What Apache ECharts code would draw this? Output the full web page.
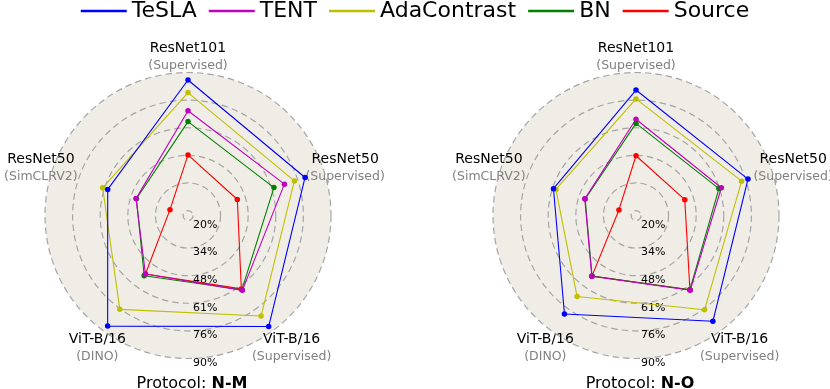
<!DOCTYPE html>
<html><head><meta charset="utf-8">
<script src="https://cdn.jsdelivr.net/npm/echarts@6/dist/echarts.min.js"></script>
<style>html,body{margin:0;padding:0;background:#fff}#c{width:830px;height:389px}</style>
</head><body><div id="c"></div>
<script>
// ---- data ----
const methods = ['TeSLA', 'TENT', 'AdaContrast', 'BN', 'Source'];
// indicator order (counter-clockwise from top)
const backbones = ['ResNet101', 'ResNet50', 'ViT-B/16', 'ViT-B/16', 'ResNet50'];
const pretraining = ['(Supervised)', '(SimCLRV2)', '(DINO)', '(Supervised)', '(Supervised)'];
const tickValues = [20, 34, 48, 62, 76, 90];
const tickLabels = ['20%', '34%', '48%', '61%', '76%', '90%'];
const protocols = ['N-M', 'N-O'];

// Protocol N-M
const nmTeSLA = [86.2, 60.3, 86.8, 87.1, 79.9];
const nmTENT = [70.6, 45.2, 54.2, 64.4, 68.9];
const nmAdaContrast = [79.8, 63.0, 76.3, 80.5, 74.2];
const nmBN = [65.1, 45.0, 55.3, 64.0, 63.3];
const nmSource = [48.2, 27.1, 54.2, 63.5, 43.8];
// Protocol N-O
const noTeSLA = [81.1, 61.5, 79.2, 83.8, 77.2];
const noTENT = [66.3, 44.8, 55.6, 64.3, 63.0];
const noAdaContrast = [76.6, 60.2, 68.3, 76.6, 73.8];
const noBN = [64.2, 44.6, 55.4, 64.0, 61.7];
const noSource = [47.8, 26.6, 55.5, 64.0, 43.5];

const rMin = 17.5, rMax = 90;
// ---- style ----
const colors = {TeSLA: '#0000ff', TENT: '#bf00bf', AdaContrast: '#bfbf00', BN: '#008000', Source: '#ff0000'};
const FONT = 'DejaVu Sans';
const centers = [[188, 215.5], [636, 215.5]];
const R = 143;
// horizontal nudges of the axis-name blocks (px), per indicator
const nameShift = [0, 6, 4, 9, 4];
const dataSets = [
  {TeSLA: nmTeSLA, TENT: nmTENT, AdaContrast: nmAdaContrast, BN: nmBN, Source: nmSource},
  {TeSLA: noTeSLA, TENT: noTENT, AdaContrast: noAdaContrast, BN: noBN, Source: noSource}
];
const drawOrder = ['Source', 'BN', 'AdaContrast', 'TENT', 'TeSLA'];

const chart = echarts.init(document.getElementById('c'), null, {renderer: 'canvas'});

const rich = {};
nameShift.forEach((s, i) => {
  const pad = s >= 0 ? [0, 0, 0, 2 * s] : [0, -2 * s, 0, 0];
  rich['a' + i] = {fontSize: 14, color: '#000', fontFamily: FONT, lineHeight: 17, align: 'center', padding: pad};
  rich['b' + i] = {fontSize: 12.5, color: '#808080', fontFamily: FONT, lineHeight: 17, align: 'center', padding: pad};
});

const radar = centers.map(c => ({
  center: c, radius: R, startAngle: 90, shape: 'circle', splitNumber: 1,
  indicator: backbones.map((b, i) => ({name: '{a' + i + '|' + b + '}\n{b' + i + '|' + pretraining[i] + '}', min: rMin, max: rMax})),
  axisLine: {show: false}, splitLine: {show: false},
  splitArea: {show: true, areaStyle: {color: ['#f0ede7']}},
  nameGap: 18,
  axisName: {
    align: 'center', verticalAlign: 'middle', padding: [5, 0, 0, 0],
    rich: rich
  },
  z: 0
}));

const polar = centers.map(c => ({center: c, radius: R}));
const angleAxis = centers.map((c, i) => ({polarIndex: i, type: 'value', min: 0, max: 360, startAngle: 270, show: false}));
const radiusAxis = centers.map((c, i) => ({
  polarIndex: i, type: 'value', min: rMin, max: rMax, z: 1,
  axisLine: {show: false},
  axisTick: {show: false, customValues: tickValues},
  axisLabel: {
    customValues: tickValues,
    formatter: v => '{t|' + tickLabels[tickValues.indexOf(v)] + '}',
    fontSize: 11, color: '#000', fontFamily: FONT, margin: 5,
    rich: {t: {fontSize: 11, color: '#000', fontFamily: FONT, padding: [9, 0, 0, 0]}}
  },
  splitLine: {show: true, lineStyle: {type: [6.5, 4], color: '#a5a5a5', width: 1.2}}
}));

const series = [];
dataSets.forEach((ds, ri) => {
  drawOrder.forEach(m => {
    series.push({
      type: 'radar', name: m, radarIndex: ri, z: 3,
      symbol: 'circle', symbolSize: 5.5,
      lineStyle: {color: colors[m], width: 1.1},
      itemStyle: {color: colors[m]},
      data: [{value: ds[m], name: m}]
    });
  });
});

const title = protocols.map((p, i) => ({
  text: 'Protocol: {b|' + p + '}', left: centers[i][0] + 4, top: 376, textAlign: 'center', padding: 0,
  textStyle: {fontSize: 16, fontFamily: FONT, fontWeight: 'normal', color: '#000',
    rich: {b: {fontSize: 16, fontFamily: FONT, fontWeight: 'bold', color: '#000'}}}
}));

chart.setOption({
  animation: false,
  title: title,
  legend: {
    data: methods, top: -5, left: 'center', icon: 'rect', itemWidth: 46, itemHeight: 2.5, itemGap: 12,
    textStyle: {fontSize: 22, fontFamily: FONT, color: '#000'}
  },
  radar: radar,
  polar: polar,
  angleAxis: angleAxis,
  radiusAxis: radiusAxis,
  series: series
});
</script></body></html>
